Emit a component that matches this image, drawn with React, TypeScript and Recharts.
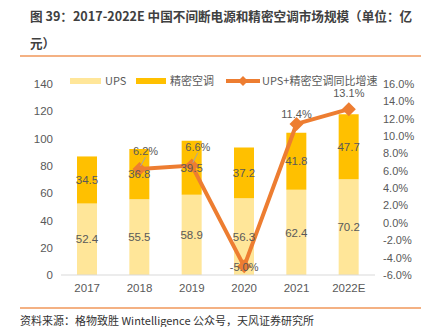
import React from 'react';
import { ComposedChart, Bar, Line, XAxis, YAxis, LabelList } from 'recharts';

const years = ['2017', '2018', '2019', '2020', '2021', '2022E'];
const upsValues = [52.4, 55.5, 58.9, 56.3, 62.4, 70.2];
const acValues = [34.5, 36.8, 39.5, 37.2, 41.8, 47.7];
const growthValues: (number | null)[] = [null, 6.2, 6.6, -5.0, 11.4, 13.1];
const leftTicks = [0, 20, 40, 60, 80, 100, 120, 140];
const rightTicks = [-6, -4, -2, 0, 2, 4, 6, 8, 10, 12, 14, 16];

const data = years.map((year, i) => ({
  year,
  ups: upsValues[i],
  ac: acValues[i],
  growth: growthValues[i],
}));

const textGray = '#595959';
const font = '"Noto Sans CJK SC", "Noto Sans", sans-serif';
const numFont = '"Liberation Sans", Arial, sans-serif';

// label placement for the growth line (dx, dy from the point, leader line or not)
const growthLabelPos: Record<number, { dx: number; dy: number; leader?: boolean }> = {
  1: { dx: 6, dy: -18, leader: true },
  2: { dx: 6, dy: -19, leader: true },
  3: { dx: 0, dy: 1 },
  4: { dx: 0, dy: -10 },
  5: { dx: 0, dy: -16 },
};

const GrowthLabel = (props: any) => {
  const { x, y, value, index } = props;
  if (value == null) return null;
  const p = growthLabelPos[index] || { dx: 0, dy: -14 };
  return (
    <g>
      {p.leader && (
        <line x1={x + 1} y1={y - 3} x2={x + p.dx} y2={y + p.dy + 6} stroke="#A6A6A6" strokeWidth={1} />
      )}
      <text
        x={x + p.dx}
        y={y + p.dy}
        textAnchor="middle"
        dominantBaseline="central"
        fill={textGray}
        fontSize={11}
        fontFamily={numFont}
      >
        {value.toFixed(1) + '%'}
      </text>
    </g>
  );
};

const Diamond = (props: any) => {
  const { cx, cy, index } = props;
  if (cy == null || isNaN(cy)) return <g key={index} />;
  const r = 7;
  return (
    <path
      key={index}
      d={`M${cx},${cy - r} L${cx + r},${cy} L${cx},${cy + r} L${cx - r},${cy} Z`}
      fill="#ED7D31"
    />
  );
};

const legendText: React.CSSProperties = {
  position: 'absolute',
  top: 73,
  fontSize: 11,
  lineHeight: '15px',
  color: textGray,
  whiteSpace: 'nowrap',
  fontFamily: font,
};

const App: React.FC = () => {
  return (
    <div style={{ position: 'absolute', left: 0, top: 0, width: 423, height: 327, background: '#fff', fontFamily: font }}>
      <div
        style={{
          position: 'absolute',
          left: 30,
          top: 3,
          fontSize: 12.6,
          fontWeight: 'bold',
          color: '#404040',
          lineHeight: '26.5px',
          whiteSpace: 'nowrap',
        }}
      >
        图 39：2017-2022E 中国不间断电源和精密空调市场规模（单位：亿
        <br />
        元）
      </div>
      <div style={{ position: 'absolute', left: 20, top: 55, width: 401, height: 1.5, background: '#F4B183' }} />

      <ComposedChart
        width={423}
        height={327}
        data={data}
        margin={{ top: 84, right: 8, left: 20, bottom: 22 }}
        barGap={0}
        style={{ position: 'absolute', left: 0, top: 0 }}
      >
        <XAxis
          dataKey="year"
          axisLine={{ stroke: '#D9D9D9' }}
          tickLine={false}
          height={30}
          tick={{ fill: textGray, fontSize: 11.5, fontFamily: numFont }}
          tickMargin={3}
        />
        <YAxis
          yAxisId="left"
          domain={[0, 140]}
          ticks={leftTicks}
          axisLine={false}
          tickLine={false}
          width={41}
          interval={0}
          tick={{ fill: textGray, fontSize: 11.5, fontFamily: numFont }}
        />
        <YAxis
          yAxisId="right"
          orientation="right"
          domain={[-6, 16]}
          ticks={rightTicks}
          axisLine={false}
          tickLine={false}
          width={40}
          interval={0}
          tickFormatter={(v: number) => v.toFixed(1) + '%'}
          tick={{ fill: textGray, fontSize: 11, fontFamily: numFont, textAnchor: 'start' }}
          tickMargin={2}
        />
        <Bar yAxisId="left" dataKey="ups" stackId="a" fill="#FFE699" barSize={20} isAnimationActive={false}>
          <LabelList dataKey="ups" position="center" fill={textGray} fontSize={11.5} fontFamily={numFont} />
        </Bar>
        <Bar yAxisId="left" dataKey="ac" stackId="a" fill="#FFC000" barSize={20} isAnimationActive={false}>
          <LabelList dataKey="ac" position="center" fill={textGray} fontSize={11.5} fontFamily={numFont} />
        </Bar>
        <Line
          yAxisId="right"
          dataKey="growth"
          stroke="#ED7D31"
          strokeWidth={4}
          dot={<Diamond />}
          activeDot={false}
          connectNulls={false}
          isAnimationActive={false}
        >
          <LabelList dataKey="growth" content={<GrowthLabel />} />
        </Line>
      </ComposedChart>

      <div style={{ position: 'absolute', left: 70, top: 78, width: 31, height: 6, background: '#FFE699' }} />
      <div style={{ ...legendText, left: 105 }}>UPS</div>
      <div style={{ position: 'absolute', left: 136, top: 78, width: 30, height: 6, background: '#FFC000' }} />
      <div style={{ ...legendText, left: 170 }}>精密空调</div>
      <svg width={34} height={14} style={{ position: 'absolute', left: 226, top: 74 }}>
        <line x1={0} y1={7} x2={34} y2={7} stroke="#ED7D31" strokeWidth={4} />
        <path d="M17,2 L22,7 L17,12 L12,7 Z" fill="#ED7D31" />
      </svg>
      <div style={{ ...legendText, left: 262 }}>UPS+精密空调同比增速</div>

      <div style={{ position: 'absolute', left: 20, top: 307, width: 401, height: 1.5, background: '#F4B183' }} />
      <div style={{ position: 'absolute', left: 20, top: 312, fontSize: 11, color: '#333', whiteSpace: 'nowrap' }}>
        资料来源：格物致胜 Wintelligence 公众号，天风证券研究所
      </div>
    </div>
  );
};

export default App;
